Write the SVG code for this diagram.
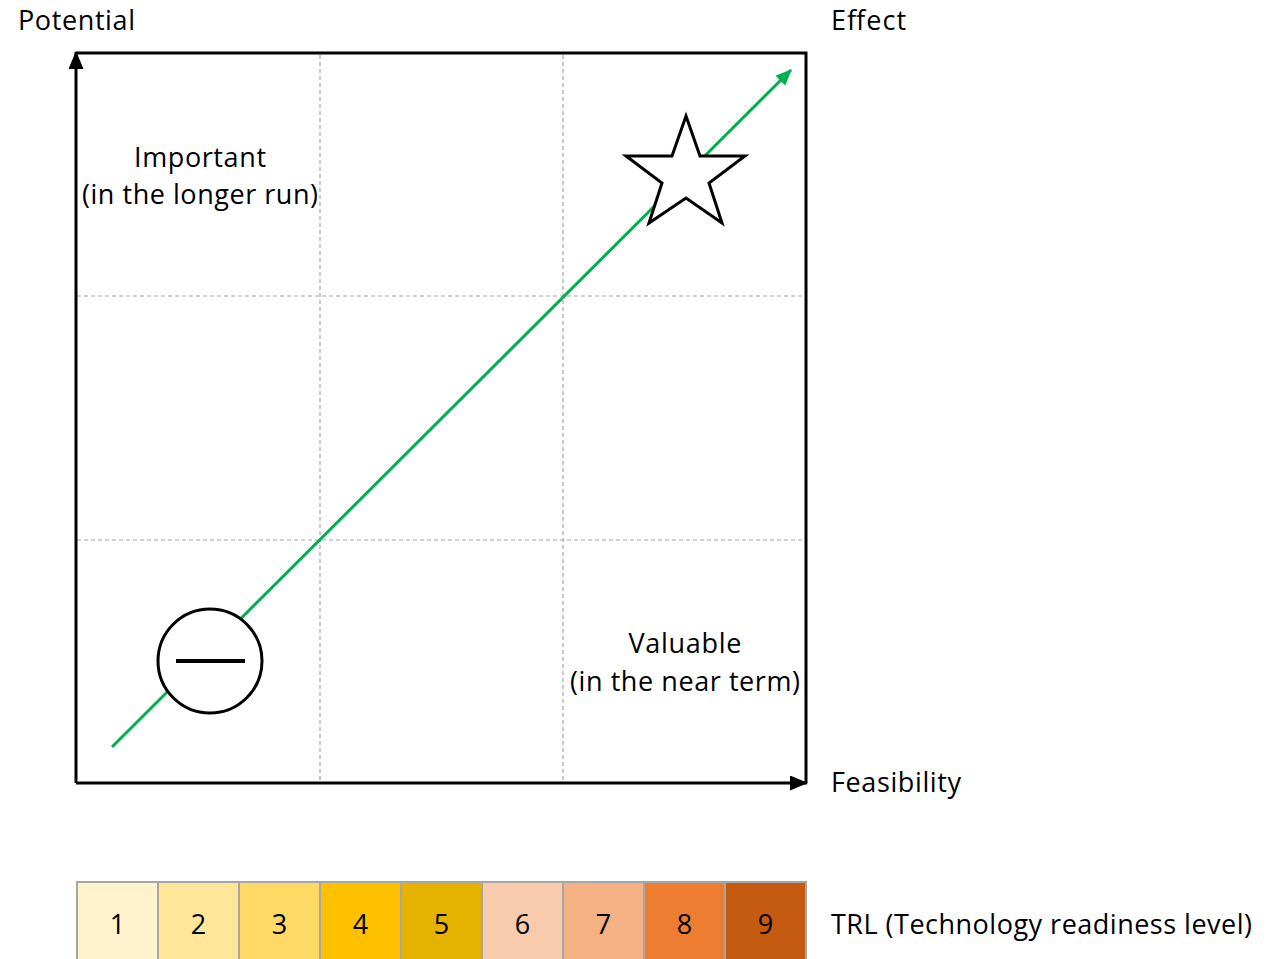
<svg xmlns="http://www.w3.org/2000/svg" width="1283" height="959" viewBox="0 0 1283 959">
<style>
text{font-family:"Open Sans","Liberation Sans",sans-serif;font-size:27px;fill:#000}
.grid{stroke:#A6A6A6;stroke-width:1.2;stroke-dasharray:4 3;fill:none}
.cell{stroke:#A6A6A6;stroke-width:2}
.num{text-anchor:middle;font-size:27px}
</style>
<defs>
<marker id="ab" markerWidth="18" markerHeight="15" refX="17" refY="7.5" orient="auto" markerUnits="userSpaceOnUse" viewBox="0 0 18 15"><path d="M0,0 L18,7.5 L0,15 z" fill="#000"/></marker>
<marker id="ag" markerWidth="16" markerHeight="14" refX="15" refY="7" orient="auto" markerUnits="userSpaceOnUse" viewBox="0 0 16 14"><path d="M0,0 L16,7 L0,14 z" fill="#00B050"/></marker>
</defs>
<g id="grid">
<line class="grid" x1="320" y1="55" x2="320" y2="782"/>
<line class="grid" x1="563" y1="55" x2="563" y2="782"/>
<line class="grid" x1="77" y1="296" x2="805" y2="296"/>
<line class="grid" x1="77" y1="540" x2="805" y2="540"/>
</g>
<g id="frame">
<polyline points="76,53 806,53 806,783" fill="none" stroke="#000" stroke-width="3"/>
</g>
<g id="connectors">
<line x1="76" y1="783" x2="76" y2="52" stroke="#000" stroke-width="3" marker-end="url(#ab)"/>
<line x1="76" y1="783" x2="807" y2="783" stroke="#000" stroke-width="3" marker-end="url(#ab)"/>
<line x1="112" y1="747" x2="791" y2="70" stroke="#00B050" stroke-width="3" marker-end="url(#ag)"/>
</g>
<g id="star">
<polygon points="686,116 700,156 745,156 709,183 722,223 686,198 649,223 662,183 626,156 672,156" fill="#fff" stroke="#000" stroke-width="3" stroke-linejoin="miter"/>
</g>
<g id="minus">
<circle cx="210" cy="661" r="52" fill="#fff" stroke="#000" stroke-width="3"/>
<line x1="176" y1="661" x2="245" y2="661" stroke="#000" stroke-width="4"/>
</g>
<g id="labels">
<text x="18" y="30" textLength="117">Potential</text>
<text x="831" y="30" textLength="75">Effect</text>
<text x="831" y="792" textLength="130">Feasibility</text>
<text x="200" y="167" text-anchor="middle" textLength="132">Important</text>
<text x="200" y="204" text-anchor="middle" textLength="236">(in the longer run)</text>
<text x="685" y="653" text-anchor="middle" textLength="113">Valuable</text>
<text x="685" y="691" text-anchor="middle" textLength="230">(in the near term)</text>
</g>
<g id="trl">
<rect class="cell" x="77" y="882" width="81" height="80" fill="#FFF2CC"/>
<rect class="cell" x="158" y="882" width="81" height="80" fill="#FFE699"/>
<rect class="cell" x="239" y="882" width="81" height="80" fill="#FFD966"/>
<rect class="cell" x="320" y="882" width="81" height="80" fill="#FFC000"/>
<rect class="cell" x="401" y="882" width="81" height="80" fill="#E6B200"/>
<rect class="cell" x="482" y="882" width="81" height="80" fill="#F8CBAD"/>
<rect class="cell" x="563" y="882" width="81" height="80" fill="#F4B183"/>
<rect class="cell" x="644" y="882" width="81" height="80" fill="#ED7D31"/>
<rect class="cell" x="725" y="882" width="81" height="80" fill="#C55A11"/>
<text class="num" x="117.5" y="934">1</text>
<text class="num" x="198.5" y="934">2</text>
<text class="num" x="279.5" y="934">3</text>
<text class="num" x="360.5" y="934">4</text>
<text class="num" x="441.5" y="934">5</text>
<text class="num" x="522.5" y="934">6</text>
<text class="num" x="603.5" y="934">7</text>
<text class="num" x="684.5" y="934">8</text>
<text class="num" x="765.5" y="934">9</text>
<text x="831" y="934" textLength="421">TRL (Technology readiness level)</text>
</g>
</svg>
